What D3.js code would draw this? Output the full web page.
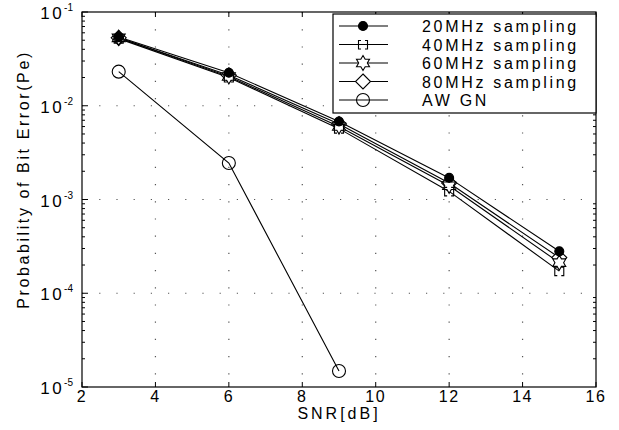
<!DOCTYPE html>
<html>
<head>
<meta charset="utf-8">
<script src="https://cdn.jsdelivr.net/npm/d3@7"></script>
<style>
  body { margin: 0; background: #fff; }
  text { font-family: "Liberation Sans", Arial, sans-serif; fill: #000; }
</style>
</head>
<body>
<div id="chart"></div>
<script>
// data
const snr = [3, 6, 9, 12, 15];
const pe20 = [0.054, 0.0225, 0.0068, 0.0017, 0.00028];
const pe40 = [0.052, 0.0200, 0.0057, 0.00122, 0.000172];
const pe60 = [0.053, 0.0205, 0.0060, 0.0014, 0.000212];
const pe80 = [0.053, 0.0212, 0.0064, 0.0015, 0.00024];
const snrAwgn = [3, 6, 9];
const peAwgn = [0.0231, 0.00245, 0.0000148];
const xTicks = [2, 4, 6, 8, 10, 12, 14, 16];
const yTicks = [-5, -4, -3, -2, -1];
const legendLabels = ["20MHz sampling", "40MHz sampling", "60MHz sampling", "80MHz sampling", "AW GN"];

const width = 619, height = 430;
const margin = { top: 12, right: 23, bottom: 43, left: 82 };

const svg = d3.select("#chart").append("svg")
  .attr("width", width)
  .attr("height", height);

const x = d3.scaleLinear().domain([2, 16]).range([margin.left, width - margin.right]);
const y = d3.scaleLog().domain([1e-5, 1e-1]).range([height - margin.bottom, margin.top]);

// dotted grid
const grid = svg.append("g").attr("stroke", "#555").attr("stroke-width", 1.2).attr("stroke-dasharray", "1.2,16");
grid.selectAll(".gx").data(xTicks.slice(1, -1)).join("line")
  .attr("x1", d => x(d)).attr("x2", d => x(d))
  .attr("y1", y(1e-1)).attr("y2", y(1e-5));
grid.selectAll(".gy").data(yTicks.slice(1, -1)).join("line")
  .attr("x1", x(2)).attr("x2", x(16))
  .attr("y1", d => y(Math.pow(10, d))).attr("y2", d => y(Math.pow(10, d)));

// minor ticks on log axis
const minor = [];
for (let e = -5; e < -1; e++) for (let m = 2; m <= 9; m++) minor.push(m * Math.pow(10, e));
const ax = svg.append("g").attr("stroke", "#000").attr("stroke-width", 1);
ax.selectAll(".ml").data(minor).join("line")
  .attr("x1", x(2)).attr("x2", x(2) + 3)
  .attr("y1", d => y(d)).attr("y2", d => y(d));
ax.selectAll(".mr").data(minor).join("line")
  .attr("x1", x(16)).attr("x2", x(16) - 3)
  .attr("y1", d => y(d)).attr("y2", d => y(d));
ax.selectAll(".yl").data(yTicks).join("line")
  .attr("x1", x(2)).attr("x2", x(2) + 6)
  .attr("y1", d => y(Math.pow(10, d))).attr("y2", d => y(Math.pow(10, d)));
ax.selectAll(".xb").data(xTicks).join("line")
  .attr("x1", d => x(d)).attr("x2", d => x(d))
  .attr("y1", y(1e-5)).attr("y2", y(1e-5) - 5);
ax.selectAll(".xt").data(xTicks).join("line")
  .attr("x1", d => x(d)).attr("x2", d => x(d))
  .attr("y1", y(1e-1)).attr("y2", y(1e-1) + 5);

// frame
svg.append("rect")
  .attr("x", x(2)).attr("y", y(1e-1))
  .attr("width", x(16) - x(2)).attr("height", y(1e-5) - y(1e-1))
  .attr("fill", "none").attr("stroke", "#000").attr("stroke-width", 1.2);

// x tick labels
svg.selectAll(".xl").data(xTicks).join("text")
  .attr("x", d => x(d)).attr("y", y(1e-5) + 15)
  .attr("text-anchor", "middle").attr("font-size", 16).attr("letter-spacing", 1.5)
  .text(d => d);

// y tick labels 10^e
const yl = svg.selectAll(".ylab").data(yTicks).join("text")
  .attr("x", x(2) - 9).attr("y", d => y(Math.pow(10, d)) + 7)
  .attr("text-anchor", "end").attr("font-size", 17).attr("letter-spacing", 2.5);
yl.append("tspan").text("10");
yl.append("tspan").attr("font-size", 10).attr("dy", -8).attr("dx", 0).attr("letter-spacing", 0).text(d => d);

// axis titles
svg.append("text")
  .attr("x", (x(2) + x(16)) / 2).attr("y", 419)
  .attr("text-anchor", "middle").attr("font-size", 16).attr("letter-spacing", 3)
  .text("SNR[dB]");
svg.append("text")
  .attr("transform", `translate(29,${(y(1e-1) + y(1e-5)) / 2 - 20}) rotate(-90)`)
  .attr("text-anchor", "middle").attr("font-size", 16).attr("letter-spacing", 2.6)
  .text("Probability of Bit Error(Pe)");

// markers
const hexagram = r => {
  const p = [];
  for (let i = 0; i < 12; i++) {
    const a = -Math.PI / 2 + i * Math.PI / 6;
    const rr = i % 2 === 0 ? r : r * 0.58;
    p.push([rr * Math.cos(a), rr * Math.sin(a)]);
  }
  return "M" + p.map(q => q.join(",")).join("L") + "Z";
};
const markers = {
  dot: g => g.append("circle").attr("r", 4.5).attr("fill", "#000").attr("stroke", "#000"),
  bracket: g => g.append("path").attr("d", "M-2,-4H-4.5V4.5H-2M2,-4H4.5V4.5H2").attr("fill", "none").attr("stroke", "#000"),
  star: g => g.append("path").attr("d", hexagram(7.5)).attr("fill", "#fff").attr("stroke", "#000"),
  diamond: g => g.append("path").attr("d", "M0,-7.5L7.5,0L0,7.5L-7.5,0Z").attr("fill", "#fff").attr("stroke", "#000"),
  circle: g => g.append("circle").attr("r", 6.5).attr("fill", "none").attr("stroke", "#000")
};

const series = [
  { xs: snr, ys: pe20, m: "dot" },
  { xs: snr, ys: pe40, m: "bracket" },
  { xs: snr, ys: pe60, m: "star" },
  { xs: snr, ys: pe80, m: "diamond" },
  { xs: snrAwgn, ys: peAwgn, m: "circle" }
];

const line = d3.line().x(d => x(d[0])).y(d => y(d[1]));
series.forEach(s => {
  const pts = s.xs.map((v, i) => [v, s.ys[i]]);
  svg.append("path").datum(pts)
    .attr("d", line).attr("fill", "none").attr("stroke", "#000").attr("stroke-width", 1.1);
});
series.slice().reverse().forEach(s => {
  s.xs.forEach((v, i) => {
    const g = svg.append("g").attr("transform", `translate(${x(v)},${y(s.ys[i])})`)
      .attr("stroke-width", 1.1);
    markers[s.m](g);
  });
});

// legend
const lg = svg.append("g");
const lx = 333, ly = 14, lw = x(16) - 333, lh = 99;
lg.append("rect").attr("x", lx).attr("y", ly).attr("width", lw).attr("height", lh)
  .attr("fill", "#fff").attr("stroke", "#000").attr("stroke-width", 1.2);
legendLabels.forEach((lab, i) => {
  const yy = ly + 12 + i * 18.5;
  lg.append("line").attr("x1", lx + 6).attr("x2", lx + 55).attr("y1", yy).attr("y2", yy)
    .attr("stroke", "#000").attr("stroke-width", 1.1);
  const g = lg.append("g").attr("transform", `translate(${lx + 30},${yy})`).attr("stroke-width", 1.1);
  markers[series[i].m](g);
  lg.append("text").attr("x", lx + 89).attr("y", yy + 6)
    .attr("font-size", 16).attr("letter-spacing", 2.7).text(lab);
});
</script>
</body>
</html>
